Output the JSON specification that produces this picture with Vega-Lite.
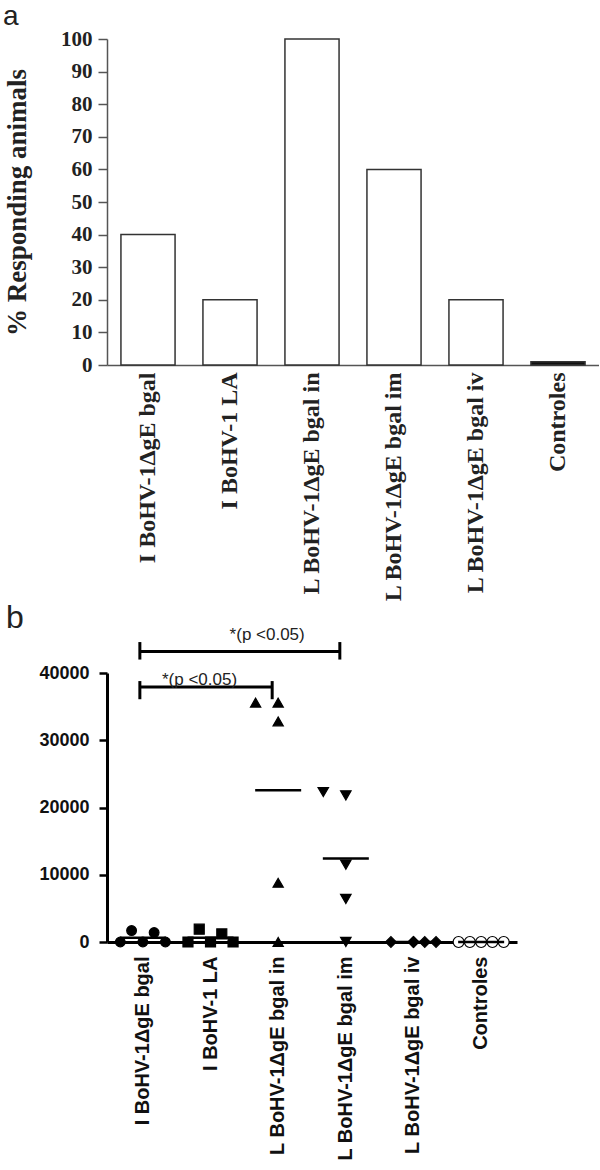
{
  "$schema": "https://vega.github.io/schema/vega-lite/v6.json",
  "padding": {"left": 3, "top": 3, "right": 0, "bottom": 0},
  "background": "white",
  "spacing": 0,
  "resolve": {"scale": {"xOffset": "independent"}},
  "config": {"view": {"stroke": null}, "axis": {"grid": false}},
  "datasets": {
    "resp": [
      {"group": "I BoHV-1ΔgE bgal", "pct": 40},
      {"group": "I BoHV-1 LA", "pct": 20},
      {"group": "L BoHV-1ΔgE bgal in", "pct": 100},
      {"group": "L BoHV-1ΔgE bgal im", "pct": 60},
      {"group": "L BoHV-1ΔgE bgal iv", "pct": 20},
      {"group": "Controles", "pct": 1}
    ],
    "ifn": [
      {"group": "I BoHV-1ΔgE bgal", "slot": "L2", "value": 0},
      {"group": "I BoHV-1ΔgE bgal", "slot": "L1", "value": 1700},
      {"group": "I BoHV-1ΔgE bgal", "slot": "C", "value": 0},
      {"group": "I BoHV-1ΔgE bgal", "slot": "R1", "value": 1400},
      {"group": "I BoHV-1ΔgE bgal", "slot": "R2", "value": 0},
      {"group": "I BoHV-1 LA", "slot": "L2", "value": 0},
      {"group": "I BoHV-1 LA", "slot": "L1", "value": 1900},
      {"group": "I BoHV-1 LA", "slot": "C", "value": 0},
      {"group": "I BoHV-1 LA", "slot": "R1", "value": 1200},
      {"group": "I BoHV-1 LA", "slot": "R2", "value": 0},
      {"group": "L BoHV-1ΔgE bgal in", "slot": "L2", "value": 35600},
      {"group": "L BoHV-1ΔgE bgal in", "slot": "C", "value": 35600},
      {"group": "L BoHV-1ΔgE bgal in", "slot": "C", "value": 32800},
      {"group": "L BoHV-1ΔgE bgal in", "slot": "C", "value": 8800},
      {"group": "L BoHV-1ΔgE bgal in", "slot": "C", "value": 0},
      {"group": "L BoHV-1ΔgE bgal im", "slot": "L2", "value": 22300},
      {"group": "L BoHV-1ΔgE bgal im", "slot": "C", "value": 21800},
      {"group": "L BoHV-1ΔgE bgal im", "slot": "C", "value": 11500},
      {"group": "L BoHV-1ΔgE bgal im", "slot": "C", "value": 6400},
      {"group": "L BoHV-1ΔgE bgal im", "slot": "C", "value": 0},
      {"group": "L BoHV-1ΔgE bgal iv", "slot": "L2", "value": 0},
      {"group": "L BoHV-1ΔgE bgal iv", "slot": "C", "value": 0},
      {"group": "L BoHV-1ΔgE bgal iv", "slot": "C", "value": 0},
      {"group": "L BoHV-1ΔgE bgal iv", "slot": "R1", "value": 0},
      {"group": "L BoHV-1ΔgE bgal iv", "slot": "R2", "value": 0},
      {"group": "Controles", "slot": "L2", "value": 0},
      {"group": "Controles", "slot": "L1", "value": 0},
      {"group": "Controles", "slot": "C", "value": 0},
      {"group": "Controles", "slot": "R1", "value": 0},
      {"group": "Controles", "slot": "R2", "value": 0}
    ],
    "sig": [
      {"from": "I BoHV-1ΔgE bgal", "to": "L BoHV-1ΔgE bgal im", "mid": "L BoHV-1ΔgE bgal in", "y": 43200, "lo": 42000, "hi": 44600, "ty": 44300, "label": "*(p <0.05)"},
      {"from": "I BoHV-1ΔgE bgal", "to": "L BoHV-1ΔgE bgal in", "mid": "I BoHV-1 LA", "y": 37900, "lo": 36100, "hi": 38800, "ty": 37600, "label": "*(p <0.05)"}
    ]
  },
  "vconcat": [
    {
      "title": {"text": "a", "anchor": "start", "frame": "bounds", "font": "Liberation Sans", "fontSize": 28, "fontWeight": "normal", "color": "#222", "offset": -3},
      "width": 492,
      "height": 326,
      "data": {"name": "resp"},
      "mark": {"type": "bar", "stroke": "#333", "strokeWidth": 1.5},
      "encoding": {
        "x": {
          "field": "group", "type": "nominal", "sort": null,
          "scale": {"paddingInner": 0.34, "paddingOuter": 0.17},
          "axis": {"title": null, "labelAngle": -90, "labelFont": "Liberation Serif", "labelFontWeight": "bold", "labelFontSize": 24, "labelColor": "#222", "labelLimit": 400, "labelPadding": 7, "ticks": false, "domainColor": "#555", "domainWidth": 1.5}
        },
        "y": {
          "field": "pct", "type": "quantitative",
          "scale": {"domain": [0, 100]},
          "axis": {"title": "% Responding animals", "titleFont": "Liberation Serif", "titleFontSize": 27, "titleFontWeight": "bold", "titleColor": "#222", "titlePadding": 31, "values": [0, 10, 20, 30, 40, 50, 60, 70, 80, 90, 100], "labelFont": "Liberation Serif", "labelFontWeight": "bold", "labelFontSize": 21, "labelColor": "#222", "labelPadding": 6, "tickSize": 9, "tickColor": "#555", "tickWidth": 1.5, "domainColor": "#555", "domainWidth": 1.5, "minExtent": 45, "maxExtent": 45}
        },
        "fill": {"condition": {"test": "datum.pct < 5", "value": "#111"}, "value": "white"}
      }
    },
    {
      "title": {"text": "b", "anchor": "start", "frame": "bounds", "font": "Liberation Sans", "fontSize": 32, "fontWeight": "normal", "color": "#222", "offset": -9, "dx": -33},
      "width": 410,
      "height": 269,
      "layer": [
        {
          "data": {"name": "ifn"},
          "mark": {"type": "point", "filled": true, "stroke": "black", "strokeWidth": 1.2, "opacity": 1},
          "encoding": {
            "x": {
              "field": "group", "type": "nominal",
              "scale": {"domain": ["I BoHV-1ΔgE bgal", "I BoHV-1 LA", "L BoHV-1ΔgE bgal in", "L BoHV-1ΔgE bgal im", "L BoHV-1ΔgE bgal iv", "Controles"], "paddingInner": 0, "paddingOuter": 0.03},
              "axis": {"title": null, "labelAngle": -90, "labelFont": "Liberation Sans", "labelFontWeight": "bold", "labelFontSize": 20, "labelColor": "#111", "labelLimit": 400, "labelPadding": 14, "ticks": false, "domainColor": "black", "domainWidth": 3}
            },
            "xOffset": {"field": "slot", "type": "nominal", "scale": {"domain": ["L2", "L1", "C", "R1", "R2"], "paddingInner": 0, "paddingOuter": 1.22}},
            "y": {
              "field": "value", "type": "quantitative",
              "scale": {"domain": [0, 40000], "nice": false},
              "axis": {"title": "γIFN pg/ml", "titleFont": "Liberation Sans", "titleFontSize": 21, "titleFontWeight": "normal", "titleColor": "#111", "titlePadding": 14, "values": [0, 10000, 20000, 30000, 40000], "format": "d", "labelFont": "Liberation Sans", "labelFontWeight": "bold", "labelFontSize": 18, "labelColor": "#111", "labelPadding": 10, "tickSize": 8, "tickColor": "black", "tickWidth": 2.5, "domainColor": "black", "domainWidth": 3, "minExtent": 68, "maxExtent": 68}
            },
            "shape": {"field": "group", "type": "nominal", "scale": {"domain": ["I BoHV-1ΔgE bgal", "I BoHV-1 LA", "L BoHV-1ΔgE bgal in", "L BoHV-1ΔgE bgal im", "L BoHV-1ΔgE bgal iv", "Controles"], "range": ["circle", "square", "triangle-up", "triangle-down", "diamond", "circle"]}, "legend": null},
            "fill": {"field": "group", "type": "nominal", "scale": {"domain": ["I BoHV-1ΔgE bgal", "I BoHV-1 LA", "L BoHV-1ΔgE bgal in", "L BoHV-1ΔgE bgal im", "L BoHV-1ΔgE bgal iv", "Controles"], "range": ["black", "black", "black", "black", "black", "white"]}, "legend": null},
            "size": {"field": "group", "type": "nominal", "scale": {"domain": ["I BoHV-1ΔgE bgal", "I BoHV-1 LA", "L BoHV-1ΔgE bgal in", "L BoHV-1ΔgE bgal im", "L BoHV-1ΔgE bgal iv", "Controles"], "range": [95, 120, 160, 160, 110, 80]}, "legend": null}
          }
        },
        {
          "data": {"name": "ifn"},
          "transform": [{"aggregate": [{"op": "mean", "field": "value", "as": "mean"}], "groupby": ["group"]}],
          "mark": {"type": "tick", "orient": "horizontal", "size": 46, "thickness": 2.5, "color": "black", "opacity": 1},
          "encoding": {
            "x": {"field": "group", "type": "nominal", "axis": {"title": null}},
            "y": {"field": "mean", "type": "quantitative", "axis": {"title": null}}
          }
        },
        {
          "data": {"name": "sig"},
          "mark": {"type": "rule", "strokeWidth": 3, "color": "black", "xOffset": -3, "x2Offset": -6},
          "encoding": {
            "x": {"field": "from", "type": "nominal", "axis": {"title": null}},
            "x2": {"field": "to"},
            "y": {"field": "y", "type": "quantitative", "axis": {"title": null}}
          }
        },
        {
          "data": {"name": "sig"},
          "mark": {"type": "rule", "strokeWidth": 3, "color": "black", "xOffset": -3},
          "encoding": {
            "x": {"field": "from", "type": "nominal", "axis": {"title": null}},
            "y": {"field": "lo", "type": "quantitative", "axis": {"title": null}},
            "y2": {"field": "hi"}
          }
        },
        {
          "data": {"name": "sig"},
          "mark": {"type": "rule", "strokeWidth": 3, "color": "black", "xOffset": -6},
          "encoding": {
            "x": {"field": "to", "type": "nominal", "axis": {"title": null}},
            "y": {"field": "lo", "type": "quantitative", "axis": {"title": null}},
            "y2": {"field": "hi"}
          }
        },
        {
          "data": {"name": "sig"},
          "mark": {"type": "text", "font": "Liberation Sans", "fontSize": 17, "baseline": "bottom", "dx": -11, "color": "#222"},
          "encoding": {
            "x": {"field": "mid", "type": "nominal", "axis": {"title": null}},
            "y": {"field": "ty", "type": "quantitative", "axis": {"title": null}},
            "text": {"field": "label"}
          }
        }
      ]
    }
  ]
}
